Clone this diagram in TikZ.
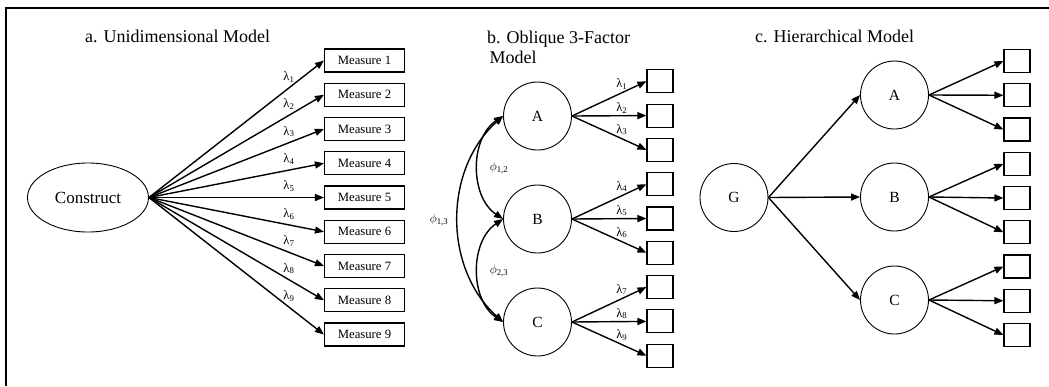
\documentclass[tikz,border=0pt]{standalone}
\usepackage{fontspec}
\setmainfont{Liberation Serif}
\usetikzlibrary{arrows.meta,shapes.geometric}
\begin{document}
\begin{tikzpicture}[x=1pt,y=-1pt,
  conn/.style={line width=1.4pt, -{Triangle[length=9pt,width=7pt]}},
  corr/.style={line width=1.4pt, {Triangle[length=9pt,width=7pt]}-{Triangle[length=9pt,width=7pt]}},
  meas/.style={draw, line width=1.1pt, minimum width=80pt, minimum height=23pt, inner sep=0pt, font=\fontsize{12.7}{14}\selectfont},
  sq/.style={draw, line width=1.1pt, minimum width=26pt, minimum height=23pt, inner sep=0pt},
  fac/.style={draw, circle, line width=0.9pt, minimum size=68pt, inner sep=0pt, font=\fontsize{15.5}{17}\selectfont},
  ttl/.style={anchor=base west, inner sep=0pt, font=\fontsize{18}{20}\selectfont},
  lab/.style={font=\fontsize{12.5}{13}\selectfont, inner sep=1pt}
]
\useasboundingbox (0,0) rectangle (1049,386);
\draw[line width=2pt] (5.8,386) -- (5.8,7.7) -- (1049,7.7);

% ---------- a. Unidimensional ----------
\node[ttl] (ta) at (85,42) {a. Unidimensional Model};
\node[draw, ellipse, line width=0.9pt, minimum width=121pt, minimum height=69pt, inner sep=0pt,
      font=\fontsize{17}{19}\selectfont] (con) at (88,197.5) {Construct};
\foreach \i in {1,...,9}
  \node[meas] (m\i) at (364.5,{60.5+(\i-1)*34.25}) {Measure \i};
\foreach \i in {1,...,9}
  \draw[conn] (con.east) -- node[lab,pos=0.8,above=4pt] {λ\textsubscript{\i}} (m\i.west);

% ---------- b. Oblique 3-Factor ----------
\node[ttl] (tb1) at (487,43) {b. Oblique 3-Factor};
\node[ttl] (tb2) at (489.5,63) {Model};
\node[fac] (bA) at (537.5,116) {A};
\node[fac] (bB) at (537.5,219) {B};
\node[fac] (bC) at (537.5,322) {C};
\foreach \i in {1,...,9}
  \node[sq] (bm\i) at (660,{81.3+(\i-1)*34.3}) {};
\foreach \f/\a/\b/\c in {bA/1/2/3,bB/4/5/6,bC/7/8/9}{
  \draw[conn] (\f.east) -- node[lab,pos=0.67,above=2pt] {λ\textsubscript{\a}} (bm\a.west);
  \draw[conn] (\f.east) -- node[lab,pos=0.67,above=1pt] {λ\textsubscript{\b}} (bm\b.west);
  \draw[conn] (\f.east) -- node[lab,pos=0.67,above=2pt] {λ\textsubscript{\c}} (bm\c.west);
}
\draw[corr] (bA.west) to[bend right=56] (bB.west);
\draw[corr] (bB.west) to[bend right=56] (bC.west);
\draw[corr] (bA.west) to[bend right=48] (bC.west);
\node[lab] (p12) at (499,168) {$\phi$\textsubscript{1,2}};
\node[lab] (p23) at (499,271) {$\phi$\textsubscript{2,3}};
\node[lab] (p13) at (439,220) {$\phi$\textsubscript{1,3}};

% ---------- c. Hierarchical ----------
\node[ttl] (tc) at (755,42) {c. Hierarchical Model};
\node[fac] (G) at (734,197.5) {G};
\node[fac] (cA) at (894.5,95) {A};
\node[fac] (cB) at (894.5,197) {B};
\node[fac] (cC) at (894.5,300) {C};
\foreach \i in {1,...,9}
  \node[sq] (cm\i) at (1017,{61+(\i-1)*34.25}) {};
\foreach \f in {cA,cB,cC}
  \draw[conn] (G.east) -- (\f.west);
\foreach \f/\a/\b/\c in {cA/1/2/3,cB/4/5/6,cC/7/8/9}{
  \draw[conn] (\f.east) -- (cm\a.west);
  \draw[conn] (\f.east) -- (cm\b.west);
  \draw[conn] (\f.east) -- (cm\c.west);
}
\end{tikzpicture}
\end{document}
